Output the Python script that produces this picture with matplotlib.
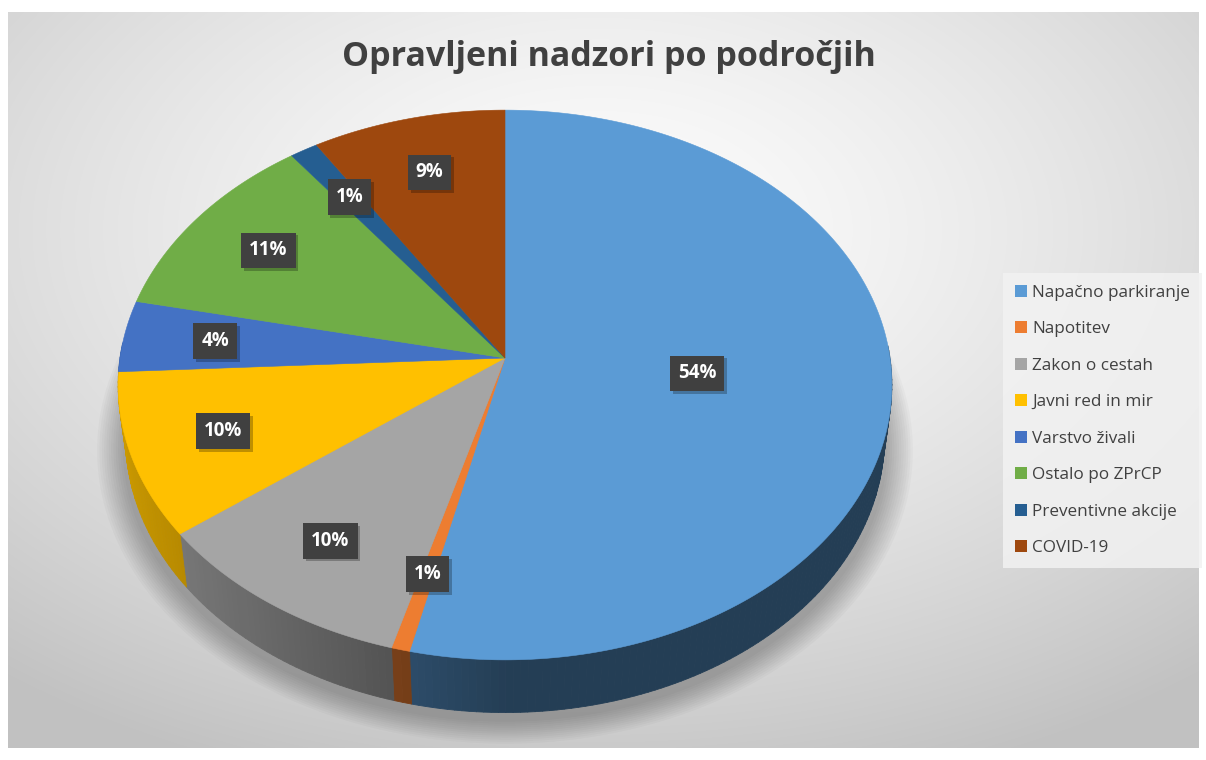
import numpy as np
import matplotlib
matplotlib.use("Agg")
import matplotlib.pyplot as plt
import matplotlib.patheffects as pe
from matplotlib.patches import Patch
from matplotlib.collections import PolyCollection
from matplotlib.colors import to_rgb

plt.rcParams['font.family'] = ['Open Sans', 'DejaVu Sans']

# data (shares in %; labels show rounded values)
categories = ["Napačno parkiranje", "Napotitev", "Zakon o cestah", "Javni red in mir",
              "Varstvo živali", "Ostalo po ZPrCP", "Preventivne akcije", "COVID-19"]
shares = [53.6, 0.7, 10.3, 9.6, 4.2, 11.4, 1.3, 8.9]
colors = ["#5B9BD5", "#ED7D31", "#A5A5A5", "#FFC000",
          "#4472C4", "#70AD47", "#255E91", "#9E480E"]
title = "Opravljeni nadzori po področjih"

# 3D view settings
TILT = np.radians(45)
CAM = 7.2      # camera distance (pie radius = 1)
DEPTH = 0.2    # thickness of the pie


def project(theta, r=1.0, z=0.0):
    """Perspective projection of a point on the pie (theta clockwise from back)."""
    u = r * np.sin(theta)
    v = r * np.cos(theta)
    d = CAM + v * np.cos(TILT) - z * np.sin(TILT)
    sx = u * CAM / d
    sy = (v * np.sin(TILT) + z * np.cos(TILT)) * CAM / d
    return sx, sy


fig = plt.figure(figsize=(12.06, 7.6), dpi=100)

# background gradient
bg = fig.add_axes([0, 0, 1, 1])
bg.set_axis_off()
yy, xx = np.mgrid[0:760, 0:1206]
dist = np.sqrt(((xx - 600) / 900.0) ** 2 + ((yy - 230) / 560.0) ** 2)
shade = np.clip(0.99 - 0.22 * dist ** 1.4, 0.76, 0.99)
img = np.dstack([shade] * 3)
img[:12, :] = 1.0
img[748:, :] = 1.0
img[:, :8] = 1.0
img[:, 1199:] = 1.0
bg.imshow(img, extent=(0, 1206, 760, 0), aspect='auto')
bg.set_xlim(0, 1206)
bg.set_ylim(760, 0)

# pie axes: apex at pixel (505, 358), radius 385 px
ax = fig.add_axes([0, 0, 1, 1])
ax.set_axis_off()
ax.set_xlim(-505 / 385, (1206 - 505) / 385)
ax.set_ylim(-(760 - 358) / 385, 358 / 385)

fracs = np.array(shares, dtype=float) / sum(shares)
edges = np.concatenate([[0], np.cumsum(fracs)]) * 2 * np.pi

# soft shadow under the pie
full = np.linspace(0, 2 * np.pi, 361)
for k in range(12):
    s = 1.0 + 0.006 * k
    px, py = project(full, r=s, z=-DEPTH - 0.02)
    ax.fill(px * 1.01, py - 0.01, color="black", alpha=0.025, lw=0, zorder=1)

# side walls (front half), shaded by facing direction
polys, fcols = [], []
for frac0, frac1, col in zip(edges[:-1], edges[1:], colors):
    n = max(2, int(np.degrees(frac1 - frac0)) + 1)
    th = np.linspace(frac0, frac1, n)
    base = np.array(to_rgb(col))
    for a, b in zip(th[:-1], th[1:]):
        mid = 0.5 * (a + b)
        if np.cos(mid) > 0.05:
            continue
        x1, y1 = project(a)
        x2, y2 = project(b)
        x3, y3 = project(b, z=-DEPTH)
        x4, y4 = project(a, z=-DEPTH)
        polys.append([(x1, y1), (x2, y2), (x3, y3), (x4, y4)])
        f = 0.4 + 0.4 * max(0.0, -np.sin(mid))
        fcols.append(np.clip(base * f, 0, 1))
ax.add_collection(PolyCollection(polys, facecolors=fcols, edgecolors=fcols,
                                 linewidths=0.6, zorder=2))

# top faces
for frac0, frac1, col in zip(edges[:-1], edges[1:], colors):
    th = np.linspace(frac0, frac1, max(3, int(np.degrees(frac1 - frac0) * 2)))
    px, py = project(th)
    ax.fill(np.concatenate([[0], px]), np.concatenate([[0], py]),
            color=col, lw=0.4, ec=col, zorder=3)

# data labels
for frac0, frac1, share in zip(edges[:-1], edges[1:], shares):
    mid = 0.5 * (frac0 + frac1)
    r = 0.5 if share > 30 else 0.76
    lx, ly = project(mid, r=r)
    t = ax.text(lx, ly, f"{round(share)}%", ha="center", va="center", fontsize=13.5,
                fontweight="bold", color="white", zorder=5,
                bbox=dict(boxstyle="square,pad=0.42", fc="#404040", ec="none"))
    t.get_bbox_patch().set_path_effects(
        [pe.SimplePatchShadow(offset=(2, -2), shadow_rgbFace="black", alpha=0.25), pe.Normal()])

# title
fig.text(0.505, 0.925, title, ha="center", va="center", fontsize=24.5,
         fontweight="bold", color="#404040")

# legend
handles = [Patch(facecolor=c, edgecolor="none", label=l) for c, l in zip(colors, categories)]
leg = fig.legend(handles=handles, loc="center left", bbox_to_anchor=(0.8245, 0.447),
                 frameon=True, fontsize=12.3, labelspacing=1.2, handlelength=0.7,
                 handleheight=0.7, handletextpad=0.3, borderpad=0.7,
                 labelcolor="#404040")
leg.get_frame().set_facecolor("#f2f2f2")
leg.get_frame().set_edgecolor("none")
leg.get_frame().set_alpha(0.85)
leg.get_frame().set_boxstyle("square", pad=0)

fig.savefig("out.png", dpi=100)
